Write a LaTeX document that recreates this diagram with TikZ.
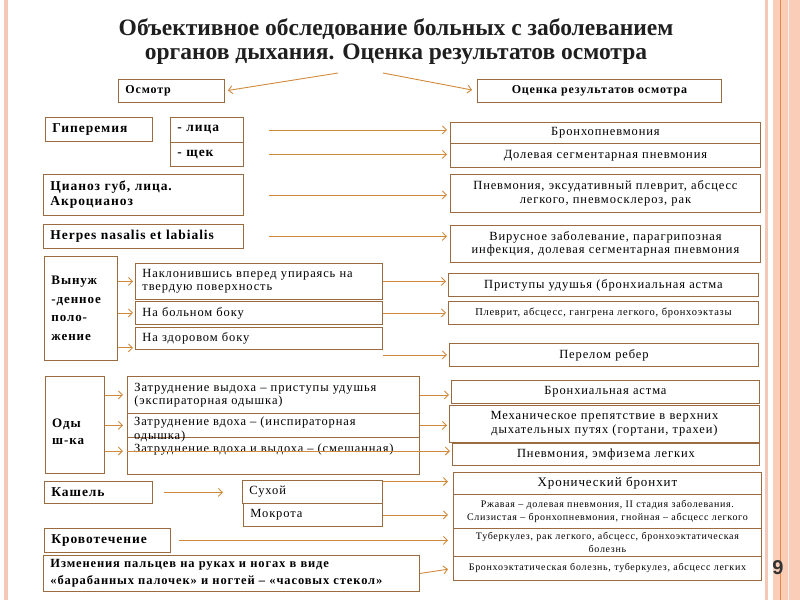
\documentclass[tikz,border=0pt]{standalone}
\usepackage{fontspec}
\setmainfont{Liberation Serif}
\newfontfamily\lsp[LetterSpace=7]{Liberation Serif}
\newfontfamily\hsans{Liberation Sans}
\usetikzlibrary{arrows.meta,calc}
\definecolor{brd}{HTML}{9A6A40}
\definecolor{arc}{HTML}{D08A3C}
\definecolor{band}{HTML}{F9CDB8}
\definecolor{bandl}{HTML}{E8893E}
\definecolor{strip}{HTML}{F4C8B6}
\tikzset{
  box/.style={draw=brd, line width=0.9pt, fill=white, inner xsep=7pt, inner ysep=1pt,
    font=\lsp\fontsize{12.5}{13.5}\selectfont, align=center, text=black},
  lbox/.style={box, align=left, font=\lsp\bfseries\fontsize{13.5}{15}\selectfont},
  rbox/.style={box, align=left},
  arr/.style={draw=arc, line width=0.9pt, -{Straight Barb[length=4pt,width=8pt]}},
}
\newcommand\bx[7][]{\pgfmathsetmacro\bw{#5-#3}\pgfmathsetmacro\bh{#6-#4}\pgfmathsetmacro\tw{#5-#3-14}%
  \node[box,#1,anchor=north west,minimum width=\bw pt,minimum height=\bh pt,text width=\tw pt] (#2) at (#3,#4) {#7};}
\begin{document}
\begin{tikzpicture}[x=1pt,y=-1pt]
\useasboundingbox (0,0) rectangle (800,600);
% decorations
\fill[strip] (4,0) rectangle (8,600);
\fill[strip] (765,0) rectangle (767.5,600);
\fill[band] (773,0) rectangle (800,600);
\draw[bandl, line width=0.9pt] (780,0) -- (780,600);
\draw[white!70!band, line width=1pt] (788,0) -- (788,600);
% title
\node[font=\bfseries\fontsize{23.5}{24}\selectfont, align=center, text=black!88] (title) at (396,41.5)
  {Объективное обследование больных с заболеванием\\органов дыхания. Оценка результатов осмотра};
\coordinate (tl) at (338,73);
\coordinate (tr) at (383,73);
\bx[lbox,font=\lsp\bfseries\fontsize{12}{13}\selectfont]{osm}{118}{79}{224}{102}{Осмотр}
\bx[box,font=\lsp\bfseries\fontsize{12}{13}\selectfont]{ocen}{477}{79}{721}{102}{Оценка результатов  осмотра}
\draw[arr, shorten >=3pt] (tl) -- (osm.east);
\draw[arr, shorten >=5pt] (tr) -- (ocen.west);
% rows
\bx[lbox]{giper}{45}{117}{152}{141}{Гиперемия}
\bx[lbox]{lica}{170}{117}{243}{142}{- лица}
\bx[lbox]{shek}{170}{142}{243}{166}{- щек}
\bx[lbox]{cian}{43}{174}{243}{215}{Цианоз губ, лица.\\Акроцианоз}
\bx[lbox]{herp}{43}{224}{243}{248}{Herpes nasalis et labialis}
\bx{bronh}{450}{122}{760}{143}{Бронхопневмония}
\bx{dolev}{450}{143}{760}{167}{Долевая сегментарная пневмония}
\bx{pnevm}{450}{174}{760}{212}{Пневмония, эксудативный плеврит, абсцесс\\легкого, пневмосклероз, рак}
\bx{virus}{450}{225}{760}{262}{Вирусное заболевание, парагрипозная\\инфекция, долевая сегментарная пневмония}
\draw[arr, shorten <=25pt, shorten >=3pt] (lica.east) -- (lica.east -| bronh.west);
\draw[arr, shorten <=25pt, shorten >=3pt] (shek.east) -- (shek.east -| dolev.west);
\draw[arr, shorten <=25pt, shorten >=3pt] (cian.east) -- (cian.east -| pnevm.west);
\draw[arr, shorten <=25pt, shorten >=3pt] (herp.east) -- (herp.east -| virus.west);
% forced position
\bx[lbox,font=\lsp\bfseries\fontsize{13}{18.5}\selectfont]{vyn}{44}{256}{117}{360}{Вынуж\\-денное\\поло-\\жение}
\bx[rbox]{nakl}{135}{263}{382}{299}{Наклонившись вперед упираясь на\\твердую поверхность}
\bx[rbox]{bolb}{135}{301}{382}{324}{На больном боку}
\bx[rbox]{zdor}{135}{327}{382}{349}{На здоровом боку}
\bx{prist}{448}{273}{758}{296}{Приступы удушья (бронхиальная астма}
\bx[font=\lsp\fontsize{10.5}{11}\selectfont]{plevr}{448}{301}{758}{324}{Плеврит, абсцесс, гангрена легкого, бронхоэктазы}
\bx{perel}{449}{343}{758}{366}{Перелом ребер}
\coordinate (zc) at ($(zdor.south west)+(0,-2)$);
\draw[arr, shorten >=2pt] (vyn.east |- nakl.west) -- (nakl.west);
\draw[arr, shorten >=2pt] (vyn.east |- bolb.west) -- (bolb.west);
\draw[arr, shorten >=2pt] (vyn.east |- zc) -- (zc);
\draw[arr, shorten >=2pt] (nakl.east) -- (nakl.east -| prist.west);
\draw[arr, shorten >=2pt] (bolb.east) -- (bolb.east -| plevr.west);
\draw[arr, shorten >=2pt] (zdor.east |- perel.west) -- (perel.west);
% dyspnea
\bx[lbox]{odysh}{45}{376}{104}{473}{}
\node[anchor=west, inner sep=0pt, align=left, font=\lsp\bfseries\fontsize{13}{17}\selectfont] (odt) at ($(odysh.west)+(7,7)$) {Оды\\ш-ка};
\bx[rbox]{o1}{127}{376}{419}{413}{Затруднение выдоха – приступы удушья\\(экспираторная одышка)}
\bx[rbox]{o3}{127}{437}{419}{474}{}
\bx[rbox]{o2}{127}{413}{419}{437}{}
\node[anchor=north west, inner sep=0pt, font=\lsp\fontsize{12.5}{13.5}\selectfont, align=left] (o2t) at ($(o2.north west)+(7,4)$)
  {Затруднение вдоха – (инспираторная\\одышка)};
\node[anchor=north west, inner sep=0pt, font=\lsp\fontsize{12.5}{13.5}\selectfont] (o3t) at ($(o3.north west)+(7,7)$)
  {Затруднение вдоха  и выдоха – (смешанная)};
\coordinate (c3) at ($(o3.north west)+(0,14)$);
\bx{bastm}{451}{380}{759}{403}{Бронхиальная астма}
\bx{mehan}{449}{405}{759}{442}{Механическое препятствие в верхних\\дыхательных путях (гортани, трахеи)}
\bx{emf}{452}{443}{759}{465}{Пневмония, эмфизема легких}
\draw[arr, shorten >=4pt] (odysh.east |- o1.west) -- (o1.west);
\draw[arr, shorten >=4pt] (odysh.east |- o2.west) -- (o2.west);
\draw[arr, shorten >=4pt] (odysh.east |- c3) -- (c3);
\draw[arr, shorten >=2pt] (o1.east) -- (o1.east -| bastm.west);
\draw[arr, shorten >=2pt] (o2.east) -- (o2.east -| mehan.west);
\draw[arr, shorten >=2pt] (c3) -- (c3 -| emf.west);
% cough etc
\bx[lbox]{kash}{44}{481}{152}{503}{Кашель}
\bx[rbox]{suh}{242}{480}{382}{503}{Сухой}
\bx[rbox]{mokr}{243}{503}{382}{526}{Мокрота}
\bx[lbox]{krov}{44}{528}{170}{552}{Кровотечение}
\bx[lbox,font=\lsp\bfseries\fontsize{12.5}{16.5}\selectfont]{izm}{43}{555}{419}{591}{Изменения пальцев на руках и ногах в виде\\«барабанных палочек» и ногтей – «часовых стекол»}
\bx[font=\lsp\fontsize{13}{14}\selectfont]{hron}{453}{472}{761}{494}{Хронический бронхит}
\bx[font=\lsp\fontsize{10}{13}\selectfont]{rzh}{453}{494}{761}{528}{Ржавая – долевая пневмония, II  стадия заболевания.\\Слизистая – бронхопневмония, гнойная – абсцесс легкого}
\bx[font=\lsp\fontsize{10}{12.5}\selectfont]{tub}{453}{528}{761}{556}{Туберкулез, рак легкого, абсцесс, бронхоэктатическая\\болезнь}
\bx[font=\lsp\fontsize{10}{12}\selectfont]{bre}{453}{556}{761}{580}{Бронхоэктатическая болезнь, туберкулез, абсцесс легких}
\coordinate (sc) at ($(suh.north east)+(0,1.5)$);
\draw[arr, shorten <=11pt, shorten >=19pt] (kash.east) -- (kash.east -| suh.west);
\draw[arr, shorten >=5pt] (sc) -- (sc -| hron.west);
\draw[arr, shorten >=5pt] (mokr.east) -- (mokr.east -| rzh.west);
\draw[arr, shorten <=8pt, shorten >=5pt] (krov.east) -- (krov.east -| tub.west);
\draw[arr, shorten >=5pt] (izm.east) -- (bre.west);
\node[font=\hsans\bfseries\fontsize{20}{22}\selectfont, text=black!80] (nine) at (778,568) {9};
\end{tikzpicture}
\end{document}
